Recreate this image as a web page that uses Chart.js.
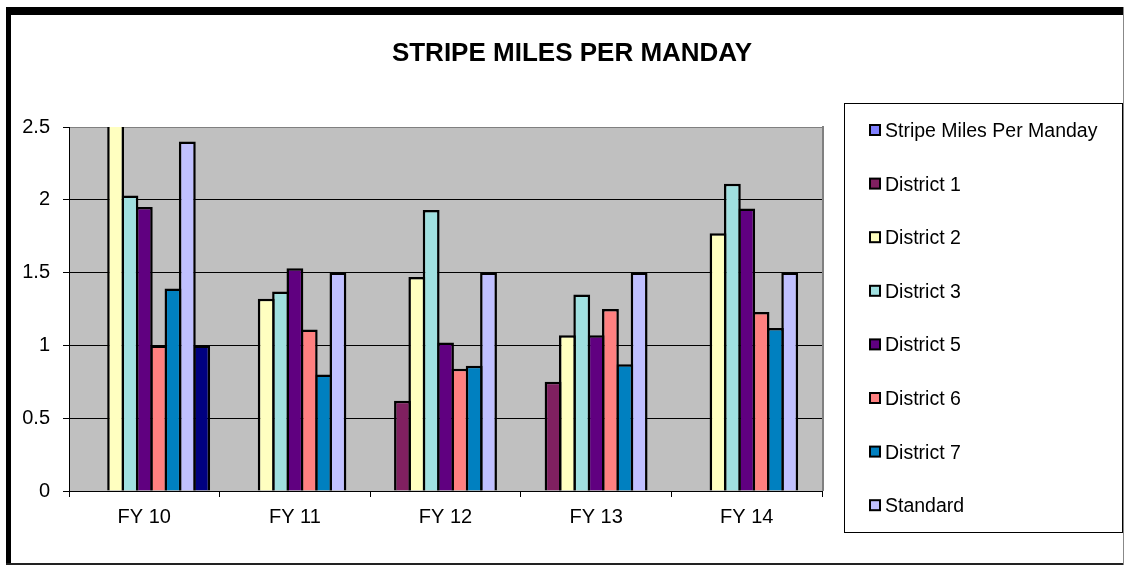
<!DOCTYPE html>
<html>
<head>
<meta charset="utf-8">
<script src="https://cdn.jsdelivr.net/npm/chart.js@4.4.0/dist/chart.umd.min.js"></script>
<style>
    html, body { margin: 0; padding: 0; background: #fff; }
    #wrap { position: relative; width: 1124px; height: 566px; }
</style>
</head>
<body>
<div id="wrap"><canvas id="stripeChart" width="1124" height="566"></canvas></div>
<script>
const chartTitle = 'STRIPE MILES PER MANDAY';
const categories = ['FY 10', 'FY 11', 'FY 12', 'FY 13', 'FY 14'];

const stripeMiles = [null, null, null, null, null];
const district1   = [null, null, 0.62, 0.75, null];
const district2   = [2.6, 1.32, 1.47, 1.07, 1.77];
const district3   = [2.03, 1.37, 1.93, 1.35, 2.11];
const district5   = [1.95, 1.53, 1.02, 1.07, 1.94];
const district6   = [1.0, 1.11, 0.84, 1.25, 1.23];
const district7   = [1.39, 0.80, 0.86, 0.87, 1.12];
const standard    = [2.4, 1.5, 1.5, 1.5, 1.5];
const series9     = [1.0, null, null, null, null];

const yTicks = [0, 0.5, 1, 1.5, 2, 2.5];
const yTickLabels = ['0', '0.5', '1', '1.5', '2', '2.5'];

const FONT = "'Liberation Sans', Arial, sans-serif";

const series = [
    { label: 'Stripe Miles Per Manday', data: stripeMiles, color: '#8080FF', legend: true },
    { label: 'District 1', data: district1, color: '#802060', legend: true },
    { label: 'District 2', data: district2, color: '#FFFFC0', legend: true },
    { label: 'District 3', data: district3, color: '#A0E0E0', legend: true },
    { label: 'District 5', data: district5, color: '#600080', legend: true },
    { label: 'District 6', data: district6, color: '#FF8080', legend: true },
    { label: 'District 7', data: district7, color: '#0080C0', legend: true },
    { label: 'Standard', data: standard, color: '#C0C0FF', legend: true },
    { label: 'Series 9', data: series9, color: '#000080', legend: false }
];

// frame, plot background, title and boxed legend like the excel sheet
const excelLook = {
    id: 'excelLook',
    beforeDraw(chart) {
        const { ctx, chartArea: a } = chart;
        ctx.save();
        ctx.fillStyle = '#fff';
        ctx.fillRect(0, 0, chart.width, chart.height);
        ctx.fillStyle = '#C0C0C0';
        ctx.fillRect(a.left, a.top, a.right - a.left, a.bottom - a.top);
        // outer border
        ctx.fillStyle = '#000';
        ctx.fillRect(6, 7, chart.width - 6, 8);
        ctx.fillRect(6, 7, 5, 558);
        ctx.fillStyle = '#222';
        ctx.fillRect(6, 563, chart.width - 6, 2);
        ctx.fillStyle = '#888';
        ctx.fillRect(chart.width - 1, 7, 1, 558);
        ctx.restore();
    },
    beforeDatasetsDraw(chart) {
        const { ctx, chartArea: a } = chart;
        ctx.save();
        ctx.fillStyle = '#808080';
        ctx.fillRect(a.right, a.top - 1, 2, a.bottom - a.top + 1);
        ctx.restore();
    },
    afterDraw(chart) {
        const { ctx } = chart;
        ctx.save();
        ctx.fillStyle = '#000';
        ctx.font = `bold 26px ${FONT}`;
        ctx.textAlign = 'center';
        ctx.textBaseline = 'alphabetic';
        ctx.fillText(chartTitle, 572, 61);

        // legend box
        ctx.strokeStyle = '#000';
        ctx.lineWidth = 1;
        ctx.strokeRect(844.5, 103.5, 278, 429);

        ctx.font = `19.5px ${FONT}`;
        ctx.textAlign = 'left';
        let i = 0;
        chart.data.datasets.forEach(ds => {
            if (!ds.inLegend) return;
            const cy = 130 + i * 53.6;
            ctx.fillStyle = ds.backgroundColor;
            ctx.fillRect(870, cy - 5, 10, 10);
            ctx.lineWidth = 2;
            ctx.strokeRect(870, cy - 5, 10, 10);
            ctx.fillStyle = '#000';
            ctx.fillText(ds.label, 885, cy + 7);
            i++;
        });
        ctx.restore();
    }
};

new Chart(document.getElementById('stripeChart'), {
    type: 'bar',
    data: {
        labels: categories,
        datasets: series.map(s => ({
            label: s.label,
            data: s.data,
            backgroundColor: s.color,
            borderColor: '#000',
            borderWidth: 2.5,
            categoryPercentage: 0.857,
            barPercentage: 1.175,
            inLegend: s.legend
        }))
    },
    options: {
        responsive: false,
        animation: false,
        layout: { padding: { left: 11, top: 127, right: 302, bottom: 35 } },
        plugins: {
            legend: { display: false },
            title: { display: false },
            tooltip: { enabled: false }
        },
        scales: {
            x: {
                offset: true,
                grid: { offset: true, drawOnChartArea: false, color: '#000', tickLength: 6 },
                border: { color: '#000' },
                ticks: { color: '#000', font: { family: FONT, size: 20 }, padding: 8, maxRotation: 0 },
                afterFit: (s) => { s.height = 40; }
            },
            y: {
                min: yTicks[0],
                max: yTicks[yTicks.length - 1],
                ticks: {
                    stepSize: 0.5,
                    color: '#000',
                    font: { family: FONT, size: 20 },
                    padding: 13,
                    callback: (v) => {
                        const k = yTicks.indexOf(v);
                        return k >= 0 ? yTickLabels[k] : '';
                    }
                },
                grid: {
                    color: (c) => c.tick && c.tick.value === 2.5 ? '#808080' : '#000',
                    tickColor: '#000',
                    tickLength: 6
                },
                border: { color: '#000' },
                afterFit: (s) => { s.width = 58; }
            }
        }
    },
    plugins: [excelLook]
});
</script>
</body>
</html>
